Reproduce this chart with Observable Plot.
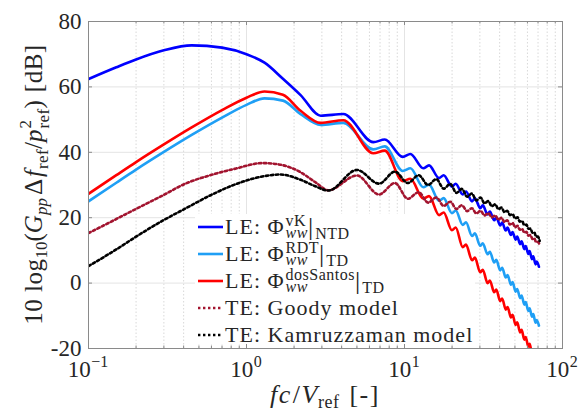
<!DOCTYPE html>
<html>
<head>
<meta charset="utf-8">
<script src="https://cdn.jsdelivr.net/npm/d3@7"></script>
<script src="https://cdn.jsdelivr.net/npm/@observablehq/plot@0.6"></script>
<style>
  body { margin: 0; background: #fff; }
  #chart { position: relative; width: 586px; height: 416px; }
  #chart svg, #chart svg text { font-family: "Liberation Serif", "DejaVu Serif", serif; }
</style>
</head>
<body>
<div id="chart"></div>
<script>
// Frequency grids (fc/V_ref) for the leading-edge (LE) spectra
const fLE = [0.1, 0.15, 0.2, 0.3, 0.45, 0.7, 1.0, 1.3, 1.7, 2.2,
  2.95, 4.1, 6.35, 7.5, 9.75, 10.9, 13.15, 14.3, 16.55, 17.7, 19.95, 21.1,
  23.35, 24.5, 26.75, 27.9, 30.15, 31.3, 33.55, 34.7, 36.95, 38.1, 40.35, 41.5,
  43.75, 44.9, 47.15, 48.3, 50.55, 51.7, 53.95, 55.1, 57.35, 58.5, 60.75, 61.9,
  64.15, 65.3, 67.55, 68.7, 70.95];

// LE: Phi_ww^vK |NTD  [dB]
const leVK = [62.4, 66.0, 68.4, 71.2, 72.7, 72.0, 70.0, 67.4, 62.5, 57.5,
  51.2, 51.7, 43.1, 43.9, 38.6, 39.5, 35.1, 36.0, 32.1, 33.0, 29.5, 30.4,
  27.1, 28.0, 25.0, 25.9, 22.9, 23.8, 21.0, 21.9, 19.2, 20.1, 17.6, 18.5,
  16.1, 17.0, 14.7, 15.6, 13.3, 14.2, 11.9, 12.8, 10.4, 11.3, 8.9, 9.8,
  7.3, 8.2, 5.7, 6.6, 5.0];

// LE: Phi_ww^RDT |TD  [dB]
const leRDT = [25.0, 30.7, 34.7, 40.1, 45.3, 50.6, 54.5, 56.5, 55.8, 51.7,
  48.4, 49.0, 40.9, 41.8, 34.3, 35.1, 29.3, 30.1, 25.2, 26.0, 21.4, 22.2,
  17.8, 18.6, 14.4, 15.2, 11.4, 12.2, 8.8, 9.6, 6.3, 7.1, 3.9, 4.7,
  1.7, 2.5, -0.5, 0.3, -2.6, -1.8, -4.6, -3.8, -6.6, -5.8, -8.5, -7.7,
  -10.3, -9.5, -12.1, -11.3, -13.0];

// LE: Phi_ww^dosSantos |TD  [dB]
const leDosSantos = [27.3, 33.0, 37.0, 42.4, 47.6, 52.9, 56.7, 58.6, 57.6, 52.7,
  49.0, 49.8, 39.7, 40.5, 31.2, 31.9, 25.8, 26.6, 20.8, 21.6, 16.2, 17.0,
  11.0, 11.8, 7.0, 7.8, 3.3, 4.1, 0.0, 0.8, -2.8, -2.0, -5.5, -4.7,
  -8.1, -7.3, -10.5, -9.7, -12.8, -12.0, -15.1, -14.3, -17.3, -16.5, -19.4, -18.6,
  -21.4, -20.6, -23.3, -22.5, -25.2];

// Frequency grid for the trailing-edge (TE) models
const fTE = [0.1, 0.15, 0.2, 0.3, 0.41, 0.6, 0.85, 1.26, 1.64, 2.2, 2.7,
  3.3, 5.0, 6.9, 8.7, 10.5, 12.3, 14.1, 15.9, 17.7, 19.5, 21.3, 23.1,
  24.9, 26.7, 28.5, 30.3, 32.1, 33.9, 35.7, 37.5, 39.3, 41.1, 42.9, 44.7,
  46.5, 48.3, 50.1, 51.9, 53.7, 55.5, 57.3, 59.1, 60.9, 62.7, 64.5, 66.3,
  68.1, 69.9, 71.7];

// TE: Goody model [dB]
const teGoody = [15.3, 19.6, 22.7, 27.0, 30.4, 33.1, 35.0, 36.7, 36.2, 33.9, 31.0,
  28.4, 32.9, 27.1, 30.6, 25.8, 27.8, 24.6, 26.2, 23.6, 24.9, 22.7, 23.8,
  22.0, 22.9, 21.3, 22.1, 20.7, 21.4, 20.1, 20.7, 19.4, 20.0, 18.7, 19.2,
  17.9, 18.4, 17.1, 17.5, 16.3, 16.6, 15.4, 15.7, 14.5, 14.7, 13.5, 13.7,
  12.5, 12.6, 11.6];

// TE: Kamruzzaman model [dB]
const teKamruzzaman = [5.2, 10.3, 14.2, 19.3, 22.8, 27.0, 30.2, 32.6, 33.2, 31.6, 29.7,
  28.3, 34.6, 30.4, 34.1, 30.6, 33.0, 30.0, 31.8, 28.9, 30.3, 27.6, 28.8,
  26.4, 27.4, 25.3, 26.2, 24.4, 25.1, 23.5, 24.1, 22.6, 23.1, 21.7, 22.1,
  20.8, 21.1, 19.8, 20.1, 18.8, 19.0, 17.7, 17.9, 16.6, 16.7, 15.4, 15.5,
  14.2, 14.2, 12.9];

// Axis ticks
const xMajor = [0.1, 1, 10, 100];
const xExponents = ["\u22121", "0", "1", "2"];
const xMinor = [0.2, 0.3, 0.4, 0.5, 0.6, 0.7, 0.8, 0.9,
  2, 3, 4, 5, 6, 7, 8, 9, 20, 30, 40, 50, 60, 70, 80, 90];
const yTicks = [-20, 0, 20, 40, 60, 80];

const W = 586, H = 416;
const mL = 88, mR = 24, mT = 21, mB = 68;
const plotW = W - mL - mR, plotH = H - mT - mB;
const serif = "'Liberation Serif', 'DejaVu Serif', serif";

const series = [
  {name: "vK", f: fLE, v: leVK, color: "#0000ff", dash: null},
  {name: "RDT", f: fLE, v: leRDT, color: "#1f9ff5", dash: null},
  {name: "dosSantos", f: fLE, v: leDosSantos, color: "#ff0000", dash: null},
  {name: "Goody", f: fTE, v: teGoody, color: "#a2142f", dash: "2.4,2.6"},
  {name: "Kamruzzaman", f: fTE, v: teKamruzzaman, color: "#000000", dash: "2.4,2.6"}
];

const lineMarks = series.map(s => Plot.line(
  s.f.map((f, i) => ({f, v: s.v[i]})),
  {x: "f", y: "v", stroke: s.color, strokeWidth: 2.6, curve: "monotone-x",
   strokeDasharray: s.dash, clip: true}
));

const frameColor = "#8a8a8a";

// Legend box geometry (pixels inside the SVG)
const legend = {x: 195, y: 214, w: 280, h: 130, rowH: 27};

const plot = Plot.plot({
  width: W, height: H,
  marginLeft: mL, marginRight: mR, marginTop: mT, marginBottom: mB,
  style: {fontFamily: serif, fontSize: "23px", color: "#262626", background: "#fff"},
  x: {type: "log", domain: [0.1, 100], axis: null},
  y: {domain: [-20, 80], axis: null},
  marks: [
    Plot.ruleX(xMinor, {stroke: "#d9d9d9", strokeWidth: 1, strokeDasharray: "1.5,2"}),
    Plot.ruleX(xMajor, {stroke: "#e4e4e4", strokeWidth: 1}),
    Plot.ruleY(yTicks, {stroke: "#e4e4e4", strokeWidth: 1}),
    Plot.axisY(yTicks, {tickSize: 0, tickPadding: 7, tickFormat: d => String(d),
      label: null, fontSize: 23, fontFamily: serif, fill: "#262626"}),
    // legend background sits under the curves but over the grid
    () => {
      const r = document.createElementNS("http://www.w3.org/2000/svg", "rect");
      r.setAttribute("x", legend.x); r.setAttribute("y", legend.y);
      r.setAttribute("width", legend.w); r.setAttribute("height", legend.h);
      r.setAttribute("fill", "#fff");
      return r;
    },
    ...lineMarks,
    // inward tick marks on all four sides
    Plot.ruleY(yTicks, {stroke: frameColor, insetRight: plotW - 4}),
    Plot.ruleY(yTicks, {stroke: frameColor, insetLeft: plotW - 4}),
    Plot.ruleX(xMajor, {stroke: frameColor, insetTop: plotH - 4}),
    Plot.ruleX(xMajor, {stroke: frameColor, insetBottom: plotH - 4}),
    Plot.ruleX(xMinor, {stroke: frameColor, insetTop: plotH - 2.5}),
    Plot.ruleX(xMinor, {stroke: frameColor, insetBottom: plotH - 2.5}),
    Plot.frame({stroke: frameColor, strokeWidth: 1})
  ]
});

document.getElementById("chart").appendChild(plot);

const svg = d3.select(plot);
const xs = plot.scale("x");
const ink = "#262626";

// Lay out a run of pieces (with sub/superscripts) as one <text> made of
// absolutely placed <tspan>s; returns the total advance.
function run(parent, x, y, parts) {
  const text = parent.append("text")
    .attr("text-anchor", "start")
    .attr("font-family", serif)
    .attr("fill", ink);
  let cx = x;
  const put = (p, px) => {
    const t = text.append("tspan")
      .attr("x", px).attr("y", y + (p.dy || 0))
      .attr("font-size", p.size || 22)
      .attr("font-style", p.italic ? "italic" : "normal")
      .attr("letter-spacing", p.ls || 0)
      .text(p.t);
    return t.node().getComputedTextLength() + (p.gap || 0);
  };
  for (const p of parts) {
    if (p.stack) cx += Math.max(...p.stack.map(q => put(q, cx)));
    else cx += put(p, cx);
  }
  return cx - x;
}

// x tick labels: 10^k centred under each decade
xMajor.forEach((v, i) => {
  const g = svg.append("g");
  const w = run(g, 0, 0, [
    {t: "10", size: 23, gap: 0.5},
    {t: xExponents[i], size: 16, dy: -10}
  ]);
  g.attr("transform", `translate(${xs.apply(v) - w / 2},${H - mB + 29})`);
});

// x axis label
{
  const g = svg.append("g");
  const w = run(g, 0, 0, [
    {t: "fc", size: 26, italic: true, ls: 1.5, gap: 1},
    {t: "/", size: 26, gap: 1.5},
    {t: "V", size: 26, italic: true, gap: 0.5},
    {t: "ref", size: 18, dy: 5, ls: 0.5, gap: 10},
    {t: "[-]", size: 26, ls: 1.5}
  ]);
  g.attr("transform", `translate(${mL + plotW / 2 - w / 2},${H - 13})`);
}

// y axis label
{
  const g = svg.append("g");
  const w = run(g, 0, 0, [
    {t: "10 log", size: 25, ls: 0.5},
    {t: "10", size: 17, dy: 5},
    {t: "(", size: 25},
    {t: "G", size: 25, italic: true},
    {t: "pp", size: 17, italic: true, dy: 5, gap: 3},
    {t: "\u0394", size: 25, gap: 2},
    {t: "f", size: 25, italic: true, gap: 1},
    {t: "ref", size: 17, dy: 6, ls: 0.4},
    {t: "/", size: 25},
    {t: "p", size: 25, italic: true, gap: 1},
    {stack: [{t: "2", size: 17, dy: -11}, {t: "ref", size: 17, dy: 7, ls: 0.4}]},
    {t: ")", size: 25, gap: 8},
    {t: "[dB]", size: 25, ls: 0.5}
  ]);
  g.attr("transform", `translate(42,${mT + plotH / 2 + w / 2}) rotate(-90)`);
}

// Legend samples and entries
{
  const lg = svg.append("g");
  const stack = (sup) => ({stack: [
    {t: sup, size: 16, ls: 0.5, dy: -8},
    {t: "ww", size: 16, italic: true, ls: 0.5, dy: 4}
  ]});
  const bar = {t: "|", size: 26, dy: 1, gap: 1};
  const labels = [
    [{t: "LE: \u03a6", gap: 1}, stack("vK"), bar, {t: "NTD", size: 16, ls: 0.5, dy: 4.5}],
    [{t: "LE: \u03a6", gap: 1}, stack("RDT"), bar, {t: "TD", size: 16, ls: 0.5, dy: 4.5}],
    [{t: "LE: \u03a6", gap: 1}, stack("dosSantos"), bar, {t: "TD", size: 16, ls: 0.5, dy: 4.5}],
    [{t: "TE: Goody model"}],
    [{t: "TE: Kamruzzaman model"}]
  ];
  series.forEach((s, i) => {
    const cy = legend.y + 13 + i * legend.rowH;
    lg.append("line").attr("x1", legend.x + 3).attr("x2", legend.x + 28)
      .attr("y1", cy).attr("y2", cy)
      .attr("stroke", s.color).attr("stroke-width", 2.6)
      .attr("stroke-dasharray", s.dash);
    run(lg, legend.x + 30, cy + 7, labels[i].map(p => ({size: 22, ls: 1, ...p})));
  });
}
</script>
</body>
</html>
